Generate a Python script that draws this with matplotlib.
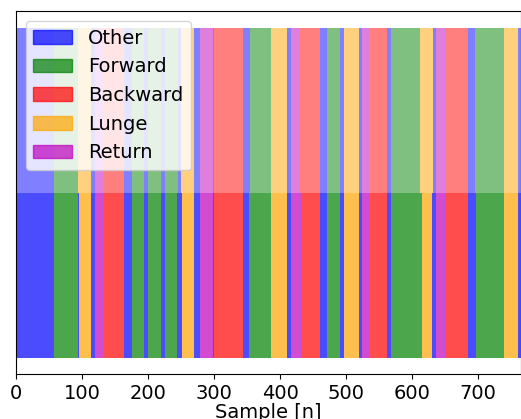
import matplotlib
matplotlib.use("Agg")
import matplotlib.pyplot as plt
from matplotlib.patches import Patch

class_names = ["Other", "Forward", "Backward", "Lunge", "Return"]
class_colors = ["blue", "green", "red", "orange", "m"]
n_samples = 765

# true labels (bottom row): segment start sample and class index
true_starts = [0, 58, 94, 96, 113, 120, 134, 163, 175, 194, 200, 220, 225, 244, 251,
               269, 278, 298, 300, 344, 353, 386, 411, 417, 432, 460, 471, 491, 497,
               520, 524, 536, 562, 568, 615, 630, 636, 650, 685, 697, 739, 760]
true_labels = [0, 1, 0, 3, 0, 4, 2, 0, 1, 0, 1, 0, 1, 0, 3,
               0, 4, 0, 2, 0, 1, 3, 0, 4, 2, 0, 1, 0, 3,
               0, 4, 2, 0, 1, 3, 0, 4, 2, 0, 1, 3, 0]

# predicted labels (top row)
pred_starts = [0, 57, 94, 114, 120, 132, 163, 175, 194, 200, 220, 225, 245, 250,
               270, 278, 298, 300, 344, 355, 387, 411, 416, 429, 460, 471, 491, 497,
               520, 524, 536, 562, 568, 612, 631, 636, 650, 685, 695, 739, 760]
pred_labels = [0, 1, 3, 0, 4, 2, 0, 1, 0, 1, 0, 1, 0, 3,
               0, 4, 0, 2, 0, 1, 3, 0, 4, 2, 0, 1, 0, 3,
               0, 4, 2, 0, 1, 3, 0, 4, 2, 0, 1, 3, 0]


def draw_row(ax, starts, labels, bottom, alpha):
    ends = starts[1:] + [n_samples]
    widths = [e - s for s, e in zip(starts, ends)]
    colors = [class_colors[c] for c in labels]
    ax.bar(starts, [0.5] * len(starts), width=widths, bottom=bottom, align="edge",
           color=colors, alpha=alpha, linewidth=0)


fig = plt.figure(figsize=(5.21, 4.19), dpi=100)
ax = fig.add_axes([0.0307, 0.1074, 0.9693, 0.8663])

draw_row(ax, true_starts, true_labels, 0.0, 0.7)
draw_row(ax, pred_starts, pred_labels, 0.5, 0.5)

ax.set_xlim(0, n_samples)
ax.set_ylim(-0.05, 1.05)
ax.set_yticks([])
ax.tick_params(axis="x", labelsize=14)
ax.set_xlabel("Sample [n]", fontsize=14, labelpad=0)

handles = [Patch(color=c, alpha=0.7) for c in class_colors]
ax.legend(handles, class_names, loc="upper left", fontsize=14)

fig.savefig("out.png", dpi=100)
